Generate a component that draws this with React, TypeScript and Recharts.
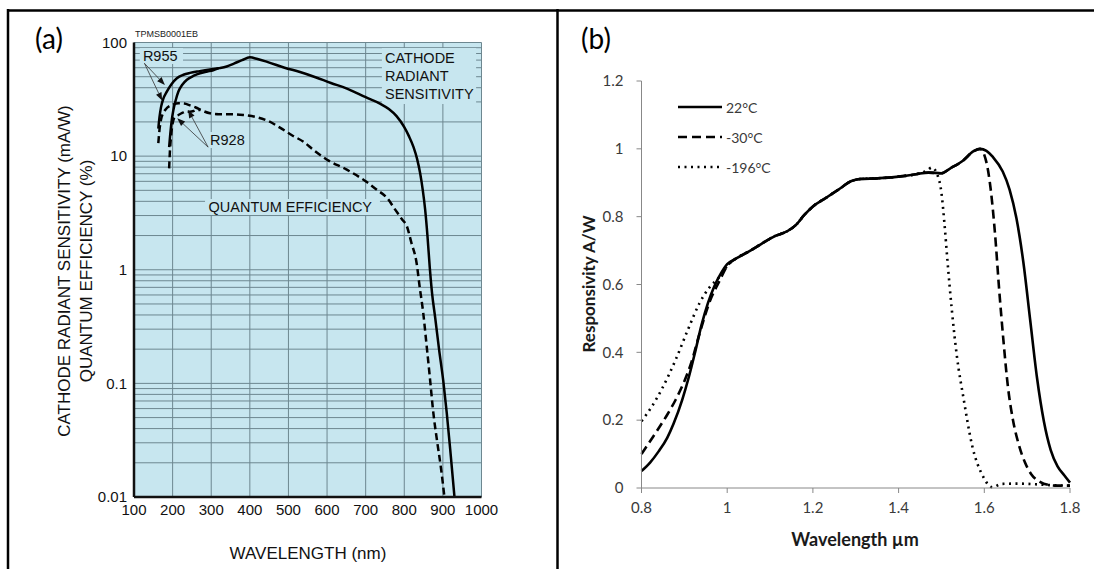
import React from 'react';
import { LineChart, Line, XAxis, YAxis, CartesianGrid, ReferenceArea, ReferenceLine, ReferenceDot } from 'recharts';

// ---------- panel (a): cathode radiant sensitivity / QE, log scale ----------
const nmTicks = [100, 200, 300, 400, 500, 600, 700, 800, 900, 1000];
const decadeLabels = [0.01, 0.1, 1, 10, 100];
const sensGridTicks = [
  0.01, 0.02, 0.03, 0.04, 0.05, 0.06, 0.07, 0.08, 0.09,
  0.1, 0.2, 0.3, 0.4, 0.5, 0.6, 0.7, 0.8, 0.9,
  1, 2, 3, 4, 5, 6, 7, 8, 9,
  10, 20, 30, 40, 50, 60, 70, 80, 90,
  100,
];

// [wavelength nm, value]
const r955Cathode = [
  [163, 17.5], [166, 22], [170, 27], [176, 32], [185, 37], [197, 43], [211, 48.5], [228, 52],
  [245, 54], [270, 56], [297, 58], [320, 59.5], [340, 61.5], [360, 65.5], [380, 70], [400, 74],
  [420, 71.5], [445, 67.5], [490, 60], [530, 55], [570, 49.5], [610, 44], [650, 39.5], [700, 33],
  [737, 29], [760, 26], [780, 22.5], [800, 18], [812, 15], [824, 12], [833, 9.5], [841, 7.1],
  [848, 5.0], [854, 3.4], [860, 2.0], [866, 1.05], [872, 0.62], [880, 0.38], [890, 0.2],
  [901, 0.105], [910, 0.055], [920, 0.024], [930, 0.01],
];
const r928Cathode = [
  [191, 12], [195, 17], [198, 21], [202, 25.5], [208, 31], [215, 37], [225, 42.5], [237, 47],
  [255, 51], [271, 53.6], [290, 55.5], [305, 57], [320, 59.5],
];
const r955QE = [
  [163, 13], [166, 17], [170, 21], [176, 24], [183, 26], [190, 27.3], [200, 28.3], [215, 29.2],
  [230, 29], [245, 28], [260, 26.8], [275, 25.3], [297, 23.8], [320, 23.4], [350, 23.4], [383, 23],
  [418, 22], [450, 20.2], [478, 17.8], [510, 15.2], [540, 13.3], [565, 11.3], [600, 9.3], [651, 7.6],
  [700, 6.0], [729, 5.05], [755, 4.3], [776, 3.4], [795, 2.75], [806, 2.45], [818, 1.75], [832, 1.14],
  [840, 0.7], [849, 0.42], [857, 0.23], [866, 0.115], [875, 0.056], [885, 0.031], [895, 0.018],
  [904, 0.01],
];
const r928QE = [
  [191, 7.8], [193, 11], [196, 15], [199, 18.5], [202, 20.8], [208, 22.3], [215, 23], [225, 24],
  [232, 24.6], [245, 24.6], [255, 25], [262, 25.5], [272, 25.4],
];

// ---------- panel (b): InGaAs responsivity vs temperature ----------
const umTicks = [0.8, 1, 1.2, 1.4, 1.6, 1.8];
const respTicks = [0, 0.2, 0.4, 0.6, 0.8, 1, 1.2];

const resp22C = [
  [0.8, 0.05], [0.82, 0.075], [0.84, 0.108], [0.86, 0.148], [0.875, 0.19], [0.895, 0.26], [0.91, 0.325],
  [0.925, 0.4], [0.94, 0.48], [0.955, 0.545], [0.97, 0.595], [0.985, 0.632], [1.0, 0.66], [1.02, 0.676],
  [1.05, 0.697], [1.08, 0.72], [1.11, 0.742], [1.14, 0.757], [1.16, 0.775], [1.18, 0.805], [1.2, 0.83],
  [1.23, 0.855], [1.26, 0.88], [1.29, 0.905], [1.31, 0.911], [1.35, 0.913], [1.4, 0.918], [1.44, 0.925],
  [1.47, 0.93], [1.5, 0.928], [1.52, 0.942], [1.55, 0.965], [1.575, 0.993], [1.59, 1.0], [1.605, 0.994],
  [1.62, 0.976], [1.643, 0.933], [1.659, 0.88], [1.675, 0.795], [1.691, 0.667], [1.707, 0.496],
  [1.723, 0.325], [1.739, 0.197], [1.755, 0.112], [1.771, 0.064], [1.787, 0.037], [1.8, 0.016],
];
const resp30C = [
  [0.8, 0.1], [0.82, 0.138], [0.84, 0.176], [0.86, 0.216], [0.88, 0.261], [0.9, 0.315], [0.915, 0.365],
  [0.935, 0.453], [0.959, 0.549], [0.983, 0.613], [1.0, 0.655], [1.02, 0.676], [1.05, 0.697], [1.08, 0.72],
  [1.11, 0.742], [1.14, 0.757], [1.16, 0.775], [1.18, 0.805], [1.2, 0.83], [1.23, 0.855], [1.26, 0.88],
  [1.29, 0.905], [1.31, 0.911], [1.35, 0.913], [1.4, 0.918], [1.44, 0.925], [1.47, 0.93], [1.5, 0.928],
  [1.52, 0.942], [1.55, 0.965], [1.575, 0.993], [1.59, 1.0], [1.605, 0.96], [1.615, 0.88], [1.625, 0.75],
  [1.635, 0.58], [1.645, 0.43], [1.655, 0.3], [1.667, 0.2], [1.68, 0.13], [1.695, 0.075], [1.71, 0.04],
  [1.73, 0.018], [1.75, 0.009], [1.77, 0.007], [1.8, 0.007],
];
const resp196C = [
  [0.8, 0.197], [0.824, 0.24], [0.848, 0.293], [0.88, 0.379], [0.911, 0.475], [0.935, 0.544],
  [0.959, 0.592], [0.983, 0.624], [1.0, 0.655], [1.02, 0.676], [1.05, 0.697], [1.08, 0.72], [1.11, 0.742],
  [1.14, 0.757], [1.16, 0.775], [1.18, 0.805], [1.2, 0.83], [1.23, 0.855], [1.26, 0.88], [1.29, 0.905],
  [1.31, 0.911], [1.35, 0.913], [1.4, 0.918], [1.44, 0.925], [1.465, 0.935], [1.478, 0.945], [1.49, 0.925],
  [1.5, 0.87], [1.507, 0.78], [1.514, 0.67], [1.524, 0.528], [1.536, 0.389], [1.552, 0.261], [1.572, 0.123],
  [1.596, 0.037], [1.619, 0.002], [1.64, 0.012], [1.68, 0.013], [1.72, 0.011], [1.76, 0.008], [1.8, 0.007],
];

const toPts = (rows: number[][]) => rows.map(([x, y]) => ({ x, y }));

const SANS = "'Liberation Sans', Arial, Helvetica, sans-serif";
const CAL = "Lato, 'Open Sans', sans-serif";
const BG = '#c7e6ef';

const seriesA = [
  { key: 'r955c', rows: r955Cathode, dash: undefined },
  { key: 'r928c', rows: r928Cathode, dash: undefined },
  { key: 'r955q', rows: r955QE, dash: '7 4' },
  { key: 'r928q', rows: r928QE, dash: '7 4' },
];

const seriesB = [
  { name: '22°C', rows: resp22C, dash: undefined },
  { name: '-30°C', rows: resp30C, dash: '9 5' },
  { name: '-196°C', rows: resp196C, dash: '2 4.5' },
];

// annotation boxes (data coords) that hide the grid behind the labels
const labelBoxes = [
  { x1: 115, x2: 227, y1: 64.7, y2: 89.6 },
  { x1: 289, x2: 395, y1: 11.8, y2: 16.3 },
  { x1: 742, x2: 986, y1: 28.8, y2: 89.6 },
  { x1: 284, x2: 737, y1: 3.04, y2: 4.2 },
];
const labelsA = [
  { lines: ['R955'], x: 123, y: 76 },
  { lines: ['R928'], x: 297, y: 13.9 },
  { lines: ['CATHODE', 'RADIANT', 'SENSITIVITY'], x: 750, y: 73 },
  { lines: ['QUANTUM EFFICIENCY'], x: 293, y: 3.59 },
];
const arrowsA = [
  [{ x: 127, y: 65.6 }, { x: 180, y: 42.3 }],
  [{ x: 127, y: 65.6 }, { x: 173, y: 30.8 }],
  [{ x: 292, y: 12 }, { x: 212, y: 21.5 }],
  [{ x: 292, y: 12 }, { x: 240, y: 25.5 }],
];

const ArrowShape = (p: any) => {
  const { x1, y1, x2, y2 } = p;
  const a = Math.atan2(y2 - y1, x2 - x1);
  const L = 8;
  const W = 3;
  const bx = x2 - L * Math.cos(a);
  const by = y2 - L * Math.sin(a);
  const head = `${x2},${y2} ${bx - W * Math.sin(a)},${by + W * Math.cos(a)} ${bx + W * Math.sin(a)},${by - W * Math.cos(a)}`;
  return (
    <g>
      <line x1={x1} y1={y1} x2={bx} y2={by} stroke="#333" strokeWidth={0.8} />
      <polygon points={head} fill="#111" />
    </g>
  );
};

const makeLabel = (lines: string[]) => (p: any) => (
  <text x={p.cx} y={p.cy} fontFamily={SANS} fontSize={14.5} fill="#111" dominantBaseline="central">
    {lines.map((t, i) => (
      <tspan key={t} x={p.cx} dy={i === 0 ? 0 : 18}>{t}</tspan>
    ))}
  </text>
);

const PanelA = () => (
  <LineChart width={557} height={569} margin={{ top: 42.5, right: 75.5, bottom: 0, left: 0 }}>
    <CartesianGrid fill={BG} fillOpacity={1} stroke="#6d8790" strokeWidth={1} />
    <XAxis
      dataKey="x" type="number" domain={[100, 1000]} ticks={nmTicks} interval={0} height={72}
      tickSize={0} tickMargin={7} axisLine={{ stroke: '#111', strokeWidth: 2.5 }} tickLine={false}
      tick={{ fontSize: 15, fill: '#111', fontFamily: SANS }}
    />
    <XAxis xAxisId="top" orientation="top" type="number" domain={[100, 1000]} height={0} tick={false}
      tickLine={false} axisLine={{ stroke: '#111', strokeWidth: 2.5 }} />
    <YAxis
      type="number" scale="log" domain={[0.01, 100]} allowDataOverflow ticks={sensGridTicks} interval={0}
      width={134} tickSize={0} tickMargin={7} axisLine={{ stroke: '#111', strokeWidth: 2.5 }} tickLine={false}
      tickFormatter={(v: number) => (decadeLabels.includes(v) ? String(v) : '')}
      tick={{ fontSize: 15, fill: '#111', fontFamily: SANS }}
    />
    <YAxis yAxisId="right" orientation="right" type="number" domain={[0, 1]} width={0} tick={false}
      tickLine={false} axisLine={{ stroke: '#111', strokeWidth: 2.5 }} />
    {labelBoxes.map((b, i) => (
      <ReferenceArea key={'box' + i} x1={b.x1} x2={b.x2} y1={b.y1} y2={b.y2} fill={BG} fillOpacity={1} stroke="none" />
    ))}
    {seriesA.map((s) => (
      <Line key={s.key} data={toPts(s.rows)} dataKey="y" type="monotone" stroke="#000" strokeWidth={2.5}
        strokeDasharray={s.dash} dot={false} isAnimationActive={false} />
    ))}
    {arrowsA.map((seg, i) => (
      <ReferenceLine key={'ar' + i} segment={seg} shape={ArrowShape} />
    ))}
    {labelsA.map((l, i) => (
      <ReferenceDot key={'lb' + i} x={l.x} y={l.y} r={0} shape={makeLabel(l.lines)} />
    ))}
  </LineChart>
);

const PanelB = () => (
  <LineChart width={537} height={569} margin={{ top: 81, right: 24, bottom: 0, left: 0 }}>
    <XAxis
      dataKey="x" type="number" domain={[0.8, 1.8]} ticks={umTicks} interval={0} height={81}
      tickSize={5} tickMargin={9} axisLine={{ stroke: '#888' }} tickLine={{ stroke: '#888' }}
      tick={{ fontSize: 15, fill: '#3a3a3a', fontFamily: CAL }}
    />
    <YAxis
      type="number" domain={[0, 1.2]} ticks={respTicks} interval={0} width={84.5}
      tickSize={5} tickMargin={13} axisLine={{ stroke: '#888' }} tickLine={{ stroke: '#888' }}
      tick={{ fontSize: 15, fill: '#3a3a3a', fontFamily: CAL }}
    />
    {seriesB.map((s) => (
      <Line key={s.name} name={s.name} data={toPts(s.rows)} dataKey="y" type="monotone" stroke="#000"
        strokeWidth={2.6} strokeDasharray={s.dash} dot={false} isAnimationActive={false} />
    ))}
  </LineChart>
);

const Overlay = () => (
  <svg width={1094} height={569} style={{ position: 'absolute', left: 0, top: 0, pointerEvents: 'none' }}>
    {/* frame */}
    <line x1={7} y1={10.5} x2={1094} y2={10.5} stroke="#000" strokeWidth={2.5} />
    <line x1={8} y1={9} x2={8} y2={569} stroke="#000" strokeWidth={2.5} />
    <line x1={557.5} y1={9} x2={557.5} y2={569} stroke="#000" strokeWidth={2.5} />

    <text x={49} y={38} fontFamily={CAL} fontSize={28} textAnchor="middle" dominantBaseline="central">(a)</text>
    <text x={596} y={38} fontFamily={CAL} fontSize={28} textAnchor="middle" dominantBaseline="central">(b)</text>

    <text x={135} y={33.5} fontFamily={SANS} fontSize={9} fill="#222" dominantBaseline="central">TPMSB0001EB</text>

    <text transform="translate(64.5,271) rotate(-90)" fontFamily={SANS} fontSize={17} fill="#111"
      textAnchor="middle" dominantBaseline="central">CATHODE RADIANT SENSITIVITY (mA/W)</text>
    <text transform="translate(86.5,271) rotate(-90)" fontFamily={SANS} fontSize={17} fill="#111"
      textAnchor="middle" dominantBaseline="central">QUANTUM EFFICIENCY (%)</text>
    <text x={308} y={553} fontFamily={SANS} fontSize={17} fill="#111" textAnchor="middle"
      dominantBaseline="central">WAVELENGTH (nm)</text>

    <text transform="translate(588,284) rotate(-90)" fontFamily={CAL} fontSize={17} fontWeight={700}
      fill="#1a1a1a" textAnchor="middle" dominantBaseline="central">Responsivity A/W</text>
    <text x={855} y={539} fontFamily={CAL} fontSize={18} fontWeight={700} fill="#1a1a1a" textAnchor="middle"
      dominantBaseline="central">Wavelength µm</text>

    {/* legend (b) */}
    {seriesB.map((s, i) => (
      <g key={s.name}>
        <line x1={678} y1={107 + i * 30} x2={722} y2={107 + i * 30} stroke="#000" strokeWidth={2.6}
          strokeDasharray={s.dash} />
        <text x={726} y={107 + i * 30} fontFamily={CAL} fontSize={14} fill="#3a3a3a" dominantBaseline="central">
          {s.name}
        </text>
      </g>
    ))}
  </svg>
);

export default function App() {
  return (
    <div style={{ position: 'absolute', left: 0, top: 0, width: 1094, height: 569, background: '#fff' }}>
      <div style={{ position: 'absolute', left: 0, top: 0 }}>
        <PanelA />
      </div>
      <div style={{ position: 'absolute', left: 557, top: 0 }}>
        <PanelB />
      </div>
      <Overlay />
    </div>
  );
}
